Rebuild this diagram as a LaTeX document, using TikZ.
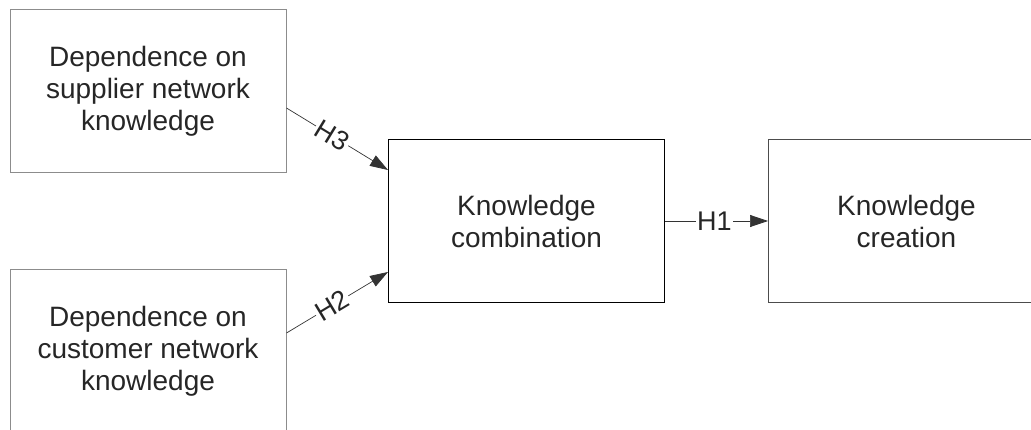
\documentclass[tikz,border=0pt]{standalone}
\usepackage{fontspec}
\setmainfont{Liberation Sans}
\usetikzlibrary{positioning, arrows.meta}

\tikzset{
  box/.style={rectangle, draw=#1, line width=1pt, minimum width=276pt,
    minimum height=163pt, inner sep=0pt, align=center, text=black!85,
    font=\fontsize{28}{32}\selectfont},
  hyp/.style={fill=white, inner sep=1.5pt, text=black!85,
    font=\fontsize{27}{30}\selectfont},
  link/.style={-{Triangle[length=18pt,width=12pt]}, line width=0.7pt, black!80}
}

\begin{document}
\begin{tikzpicture}[x=1pt,y=1pt,node distance=2cm,on grid]
      \useasboundingbox (0,0) rectangle (1031,-430);
      \node[box=black!45] (supp) at (148,-91.5) {Dependence on\\supplier network\\knowledge};
      \node[box=black!45] (cust) [below=260pt of supp] {Dependence on\\customer network\\knowledge};
      \node[box=black] (comb) [below right=129.5pt and 378.5pt of supp] {Knowledge\\combination};
      \node[box=black!70] (crea) [right=380pt of comb] {Knowledge\\creation};
        \draw[link] ([yshift=-16.5pt]supp.east) -- node[hyp, sloped, pos=0.45] {H3} ([yshift=51pt]comb.west);
        \draw[link] ([yshift=18.5pt]cust.east) -- node[hyp, sloped, pos=0.45] {H2} ([yshift=-51pt]comb.west);
        \draw[link] (comb) -- node[hyp, pos=0.48] {H1} (crea);
    \end{tikzpicture}
\end{document}
